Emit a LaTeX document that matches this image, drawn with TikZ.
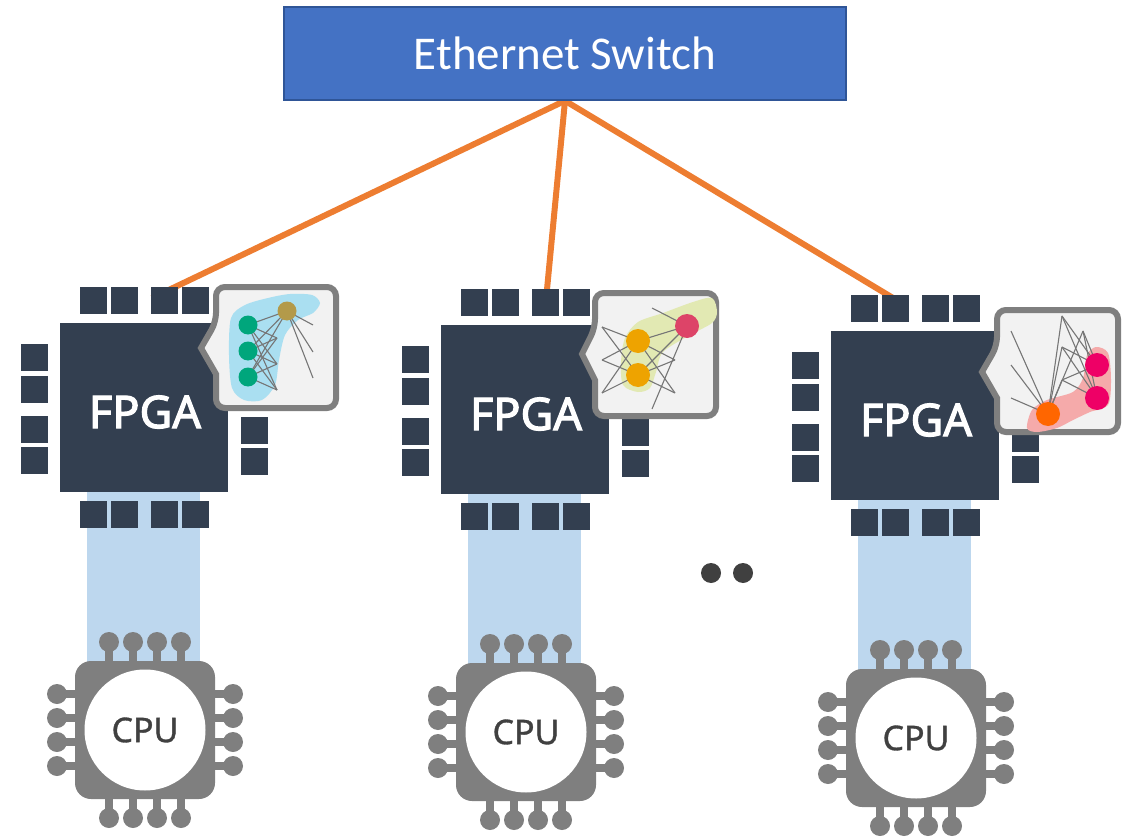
\documentclass[tikz,border=0pt]{standalone}
\usepackage{fontspec}
\setmainfont{Noto Sans}
\newfontfamily\switchfont{Carlito}
\newfontfamily\chipfont{Noto Sans}[FakeBold=2.5]
\newfontfamily\cpufont{Noto Sans}[FakeBold=1]
\usetikzlibrary{backgrounds}

\definecolor{switchblue}{HTML}{4472C4}
\definecolor{switchedge}{HTML}{2F5597}
\definecolor{linkorange}{HTML}{ED7D31}
\definecolor{fpgadark}{HTML}{333F50}
\definecolor{busblue}{HTML}{BDD7EE}
\definecolor{chipgray}{HTML}{7F7F7F}
\definecolor{bubblefill}{HTML}{F2F2F2}
\definecolor{netgray}{HTML}{767676}
\definecolor{textgray}{HTML}{404040}
\definecolor{blobblue}{HTML}{AADFF1}
\definecolor{blobyellow}{HTML}{E2E9B3}
\definecolor{blobred}{HTML}{F5AAAA}
\definecolor{nodegreen}{HTML}{00A67C}
\definecolor{nodegold}{HTML}{B39A4A}
\definecolor{nodeamber}{HTML}{EEA300}
\definecolor{noderose}{HTML}{DD4468}
\definecolor{nodeorange}{HTML}{FF6600}
\definecolor{nodepink}{HTML}{EE0066}

\tikzset{
  switchbox/.style={draw=switchedge, line width=1.5pt, fill=switchblue,
    minimum width=562pt, minimum height=93pt, text=white,
    font=\switchfont\fontsize{47pt}{52pt}\selectfont},
  link/.style={draw=linkorange, line width=6pt},
  fpgabody/.style={fill=fpgadark, minimum width=168pt, minimum height=169pt, inner sep=0pt},
  fpgatext/.style={text=white, inner sep=0pt, font=\chipfont\fontsize{45pt}{50pt}\selectfont},
  fpgapin/.style={fill=fpgadark},
  busband/.style={fill=busblue},
  cpubody/.style={fill=chipgray, rounded corners=16pt, minimum width=140pt,
    minimum height=138pt, inner sep=0pt},
  cpucore/.style={circle, fill=white, minimum size=121pt, inner sep=0pt,
    text=textgray, font=\cpufont\fontsize{34pt}{40pt}\selectfont},
  cpuleg/.style={draw=chipgray, line width=8pt},
  bubble/.style={draw=chipgray, fill=bubblefill, line width=6pt},
  wire/.style={draw=netgray, line width=1.1pt},
  dotnode/.style={circle, fill=textgray, minimum size=20pt, inner sep=0pt}
}

% one FPGA board with its host CPU, #1 = index, (#2,#3) = offset
\newcommand{\fpgacpu}[3]{%
  \begin{scope}[shift={(#2,#3)}]
    % bus between fpga and cpu
    \fill[busband] (27,160) rectangle (140,345);
    % fpga package
    \node[fpgabody] (fpga#1) at (84,84.5) {};
    \node[fpgatext] (fpga#1name) at (85,89) {FPGA};
    \foreach \px in {20,51,91,122} {
      \fill[fpgapin] (\px,-36) rectangle ++(27,27);
      \fill[fpgapin] (\px,178) rectangle ++(27,27);
    }
    \foreach \py in {21,53,93,124}
      \fill[fpgapin] (-39,\py) rectangle ++(27,27);
    \foreach \py in {94,125}
      \fill[fpgapin] (181,\py) rectangle ++(27,27);
    % cpu legs
    \foreach \p in {49,73,97,121} {
      \draw[cpuleg] (\p,360) -- (\p,319);
      \fill[chipgray] (\p,319) circle (10pt);
      \draw[cpuleg] (\p,460) -- (\p,495);
      \fill[chipgray] (\p,495) circle (10pt);
    }
    \foreach \p in {371,395,419,443} {
      \draw[cpuleg] (30,\p) -- (-3,\p);
      \fill[chipgray] (-3,\p) circle (10pt);
      \draw[cpuleg] (140,\p) -- (173,\p);
      \fill[chipgray] (173,\p) circle (10pt);
    }
    \node[cpubody] (cpu#1) at (85,407) {};
    \node[cpucore] (cpu#1core) at (85,407) {CPU};
  \end{scope}}

\begin{document}
\begin{tikzpicture}[x=1pt,y=-1pt]
\useasboundingbox (0,0) rectangle (1138,837);

\node[switchbox] (switch) at (565,53.5) {Ethernet Switch};

% uplinks end under the top pads
\coordinate (uplink1) at (152,298);
\coordinate (uplink2) at (546,300);
\coordinate (uplink3) at (893,298);
\begin{scope}[on background layer]
  \draw[link] (switch.south) -- (uplink1);
  \draw[link] (switch.south) -- (uplink2);
  \draw[link] (switch.south) -- (uplink3);
\end{scope}

\fpgacpu{1}{60}{323}
\fpgacpu{2}{441}{325}
\fpgacpu{3}{831}{331}

% model partition on fpga 1
\draw[bubble] (201,348) -- (216,374) [rounded corners=9pt] -- (216,408) -- (336,408)
  -- (336,287) -- (216,287) -- (216,322) [sharp corners] -- cycle;
\fill[blobblue] plot[smooth cycle] coordinates {(231,318) (245,305) (268,298) (290,294)
  (312,295) (320,303) (313,313) (298,320) (285,335) (279,360) (275,385) (262,400)
  (244,400) (232,388) (229,355)};
\coordinate (a1) at (248,325);
\coordinate (a2) at (248,351);
\coordinate (a3) at (248,377);
\coordinate (b1) at (287,311);
\coordinate (b2) at (277,338);
\coordinate (b3) at (277,364);
\coordinate (b4) at (277,390);
\coordinate (c1) at (313,325);
\coordinate (c2) at (313,352);
\coordinate (c3) at (313,378);
\foreach \i in {a1,a2,a3}
  \foreach \j in {b1,b2,b3,b4}
    \draw[wire] (\i) -- (\j);
\foreach \j in {c1,c2,c3}
  \draw[wire] (b1) -- (\j);
\foreach \i in {a1,a2,a3}
  \fill[nodegreen] (\i) circle (9.5pt);
\fill[nodegold] (b1) circle (9.5pt);

% model partition on fpga 2
\draw[bubble] (582,354) -- (595,380) [rounded corners=9pt] -- (595,416) -- (716,416)
  -- (716,293) -- (595,293) -- (595,328) [sharp corners] -- cycle;
\fill[blobyellow] plot[smooth cycle] coordinates {(625,338) (638,322) (663,313) (693,302)
  (712,298) (717,312) (712,323) (690,335) (663,352) (656,372) (650,388) (638,392)
  (623,385) (621,362)};
\coordinate (d1) at (602,327);
\coordinate (d2) at (602,360);
\coordinate (d3) at (602,393);
\coordinate (e1) at (638,341);
\coordinate (e2) at (638,375);
\coordinate (f1) at (687,326);
\coordinate (f2) at (675,360);
\coordinate (f3) at (675,393);
\coordinate (f4) at (652,308);
\coordinate (f5) at (652,409);
\foreach \i in {d1,d2,d3}
  \foreach \j in {e1,e2}
    \draw[wire] (\i) -- (\j);
\foreach \i in {e1,e2}
  \foreach \j in {f1,f2,f3}
    \draw[wire] (\i) -- (\j);
\draw[wire] (f4) -- (f1) -- (f5);
\fill[nodeamber] (e1) circle (12pt);
\fill[nodeamber] (e2) circle (12pt);
\fill[noderose] (f1) circle (12pt);

% model partition on fpga 3
\draw[bubble] (982,372) -- (997,398) [rounded corners=9pt] -- (997,432) -- (1118,432)
  -- (1118,310) -- (997,310) -- (997,346) [sharp corners] -- cycle;
\fill[blobred] plot[smooth cycle] coordinates {(1027,428) (1032,410) (1047,400) (1073,392)
  (1083,378) (1087,355) (1096,347) (1108,353) (1111,380) (1108,405) (1090,412)
  (1073,420) (1057,428) (1037,432)};
\coordinate (g1) at (1011,331);
\coordinate (g2) at (1011,365);
\coordinate (g3) at (1011,398);
\coordinate (h1) at (1048,414);
\coordinate (k1) at (1062,316);
\coordinate (k2) at (1062,347);
\coordinate (k3) at (1062,380);
\coordinate (k4) at (1083,331);
\coordinate (m1) at (1097,365);
\coordinate (m2) at (1097,398);
\foreach \j in {g1,g2,g3,k1,k2,k3,k4}
  \draw[wire] (h1) -- (\j);
\foreach \i in {m1,m2}
  \foreach \j in {k1,k2,k3,k4}
    \draw[wire] (\i) -- (\j);
\fill[nodeorange] (h1) circle (12pt);
\fill[nodepink] (m1) circle (12pt);
\fill[nodepink] (m2) circle (12pt);

% more boards
\node[dotnode] (more1) at (711,573) {};
\node[dotnode] (more2) at (743,573) {};
\end{tikzpicture}
\end{document}
